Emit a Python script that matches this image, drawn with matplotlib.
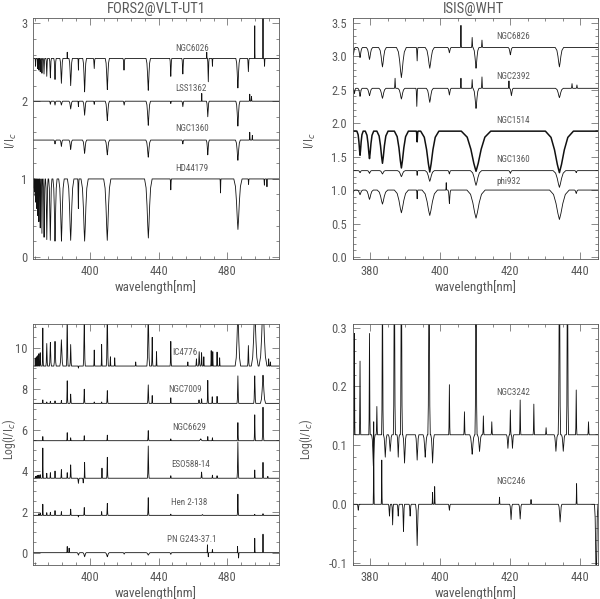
import numpy as np
import matplotlib
matplotlib.use("Agg")
import matplotlib.pyplot as plt
from matplotlib.ticker import MultipleLocator, FormatStrFormatter
from matplotlib import font_manager

# narrow font if the system has one, otherwise DejaVu Sans
names = set(f.name for f in font_manager.fontManager.ttflist)
narrow = [n for n in ['DejaVu Sans Condensed', 'Liberation Sans Narrow', 'Roboto Condensed'] if n in names]
plt.rcParams['font.family'] = narrow[:1] + ['DejaVu Sans']
plt.rcParams['axes.unicode_minus'] = False
SMALL = 1.0 if narrow else 0.88

# ---- line lists: centre [nm], tip level, half width [nm]
# FORS2 panel (I/Ic, shifted)
ngc6026_cont = 2.55
ngc6026_lam = [368.5, 369.7, 370.4, 371.2, 372.2, 373.4, 375.0, 377.1, 379.8, 383.5, 386.9, 388.9,
               393.4, 397.0, 402.6, 410.2, 419.9, 434.0, 447.1, 454.1, 468.0, 468.9, 471.3, 486.1,
               492.2, 495.9, 500.7, 501.6]
ngc6026_tip = [2.45, 2.42, 2.40, 2.38, 2.36, 2.35, 2.32, 2.30, 2.28, 2.23, 2.63, 2.20,
               2.40, 2.12, 2.42, 2.15, 2.40, 2.14, 2.32, 2.35, 2.63, 2.25, 2.45, 2.17,
               2.38, 2.97, 3.30, 2.45]
ngc6026_hw = [0.3, 0.3, 0.3, 0.35, 0.4, 0.45, 0.5, 0.6, 0.7, 0.9, 0.15, 1.0,
              0.3, 1.1, 0.5, 1.2, 0.6, 1.3, 0.6, 0.6, 0.25, 0.5, 0.3, 1.2,
              0.5, 0.2, 0.2, 0.3]

lss1362_cont = 2.0
lss1362_lam = [377.1, 379.8, 383.5, 388.9, 393.4, 397.0, 402.6, 410.2, 420.0, 434.0, 447.1, 454.1,
               465.1, 468.6, 486.1, 493.0, 494.0]
lss1362_tip = [1.96, 1.95, 1.95, 1.90, 1.93, 1.82, 1.96, 1.75, 1.95, 1.69, 1.97, 1.93,
               2.10, 1.80, 1.68, 2.09, 2.06]
lss1362_hw = [0.5, 0.6, 0.8, 1.0, 0.3, 1.0, 0.4, 1.2, 0.6, 1.3, 0.4, 0.6,
              0.2, 0.8, 1.2, 0.3, 0.3]

ngc1360f_cont = 1.5
ngc1360f_lam = [379.8, 383.5, 388.9, 397.0, 410.2, 434.0, 454.1, 468.6, 486.1, 493.0, 494.5]
ngc1360f_tip = [1.45, 1.42, 1.38, 1.33, 1.31, 1.28, 1.45, 1.31, 1.24, 1.60, 1.56]
ngc1360f_hw = [0.7, 0.8, 1.0, 1.2, 1.3, 1.4, 0.6, 0.9, 1.4, 0.3, 0.3]

hd44179_cont = 1.0
hd44179_lam = [367.65, 367.94, 368.28, 368.68, 369.15, 369.72, 370.39, 371.20, 372.19, 373.44,
               375.02, 377.06, 379.79, 383.54, 388.90, 393.37, 397.01, 410.17, 434.05, 447.1,
               476.0, 486.13, 492.3, 501.5, 503.0]
hd44179_tip = [0.88, 0.84, 0.78, 0.70, 0.62, 0.53, 0.45, 0.37, 0.30, 0.25,
               0.22, 0.21, 0.20, 0.20, 0.21, 0.62, 0.20, 0.21, 0.24, 0.86,
               0.82, 0.35, 0.93, 0.92, 0.90]
hd44179_hw = [0.13, 0.15, 0.17, 0.19, 0.22, 0.26, 0.30, 0.38, 0.45, 0.60,
              0.75, 0.95, 1.2, 1.6, 1.9, 0.4, 2.1, 2.1, 2.2, 0.4,
              0.3, 2.4, 0.3, 0.3, 0.3]

# ISIS panel (I/Ic, shifted)
ngc6826_cont = 3.13
ngc6826_lam = [375.2, 377.1, 379.8, 383.5, 388.9, 393.4, 397.0, 402.6, 405.9, 409.1, 410.2, 411.9,
               420.0, 434.0]
ngc6826_tip = [3.02, 2.98, 2.95, 2.84, 2.68, 2.93, 2.82, 3.05, 3.46, 3.28, 2.82, 3.24,
               3.02, 2.84]
ngc6826_hw = [0.5, 0.7, 0.9, 1.1, 1.4, 0.25, 1.3, 0.5, 0.15, 0.2, 0.85, 0.2,
              0.6, 1.2]

ngc2392_cont = 2.52
ngc2392_lam = [375.5, 377.1, 379.8, 383.5, 387.1, 388.9, 393.3, 397.0, 402.6, 405.9, 409.1, 410.2,
               411.9, 419.6, 420.3, 434.0, 437.6, 439.0]
ngc2392_tip = [2.44, 2.40, 2.41, 2.37, 2.67, 2.36, 2.25, 2.31, 2.42, 2.67, 2.65, 2.22,
               2.69, 2.63, 2.41, 2.38, 2.59, 2.57]
ngc2392_hw = [0.4, 0.6, 0.8, 1.0, 0.2, 1.0, 0.25, 1.0, 0.5, 0.15, 0.2, 0.85,
              0.2, 0.15, 0.5, 1.1, 0.2, 0.2]

ngc1514_cont = 1.88
ngc1514_lam = [377.1, 379.8, 383.5, 388.9, 393.4, 397.0, 410.2, 434.0]
ngc1514_tip = [1.52, 1.47, 1.40, 1.33, 1.72, 1.27, 1.28, 1.26]
ngc1514_hw = [0.9, 1.2, 1.6, 2.0, 0.25, 2.6, 4.2, 4.0]

ngc1360i_cont = 1.29
ngc1360i_lam = [377.1, 379.8, 383.5, 388.9, 393.4, 397.0, 402.6, 410.2, 420.0, 434.0, 438.8]
ngc1360i_tip = [1.26, 1.25, 1.24, 1.20, 1.22, 1.13, 1.24, 1.07, 1.25, 1.04, 1.26]
ngc1360i_hw = [0.5, 0.6, 0.8, 1.1, 0.2, 1.3, 0.4, 1.6, 0.5, 1.8, 0.4]

phi932_cont = 1.0
phi932_lam = [375.0, 377.1, 379.8, 383.5, 388.9, 393.4, 397.0, 401.7, 402.6, 410.2, 434.0, 438.8]
phi932_tip = [0.94, 0.93, 0.86, 0.79, 0.66, 0.87, 0.62, 1.11, 0.80, 0.58, 0.56, 0.95]
phi932_hw = [0.6, 0.8, 1.1, 1.5, 2.0, 0.2, 2.2, 0.15, 0.4, 2.6, 2.8, 0.5]

# FORS2 emission-line objects (Log(I/Ic), shifted)
ic4776_cont = 9.1
ic4776_lam = [368.3, 368.7, 369.15, 369.7, 370.4, 371.2, 372.7, 375.0, 377.1, 379.8, 383.5, 386.9,
              388.9, 393.4, 396.8, 402.6, 406.9, 410.2, 412.0, 414.5, 426.7, 434.0, 436.3, 438.8,
              447.1, 457.0, 462.0, 463.6, 465.0, 466.3, 470.6, 471.5, 474.0, 475.5, 486.1, 492.2,
              495.9, 500.7, 504.0, 505.0]
ic4776_tip = [9.45, 9.50, 9.55, 9.60, 9.70, 9.75, 10.95, 10.20, 10.25, 10.30, 10.38, 11.8,
              10.15, 9.0, 11.3, 9.88, 10.15, 11.8, 9.55, 9.50, 9.30, 11.8, 10.5, 9.80,
              10.3, 9.30, 9.45, 9.80, 9.75, 9.55, 9.85, 9.80, 9.78, 9.50, 11.8, 10.1,
              11.9, 12.2, 9.45, 9.30]
ic4776_hw = [0.15, 0.17, 0.2, 0.22, 0.28, 0.35, 0.35, 0.5, 0.6, 0.7, 0.9, 0.5,
             0.5, 0.3, 0.6, 0.3, 0.3, 0.6, 0.3, 0.3, 0.3, 0.8, 0.4, 0.3,
             0.4, 0.3, 0.4, 0.5, 0.4, 0.3, 0.3, 0.3, 0.3, 0.3, 1.6, 0.5,
             2.0, 2.3, 0.3, 0.3]

ngc7009_cont = 7.28
ngc7009_lam = [372.7, 375.0, 377.1, 379.8, 383.5, 386.9, 388.9, 396.8, 402.6, 406.9, 410.2, 434.0,
               436.3, 447.1, 463.5, 465.0, 468.6, 471.2, 474.0, 486.1, 495.9, 500.7]
ngc7009_tip = [7.45, 7.35, 7.38, 7.40, 7.42, 8.38, 7.73, 7.97, 7.35, 7.35, 7.90, 8.18,
               7.66, 7.55, 7.45, 7.50, 8.40, 7.60, 7.62, 8.62, 8.62, 8.65]
ngc7009_hw = [0.3, 0.3, 0.3, 0.3, 0.3, 0.4, 0.4, 0.4, 0.3, 0.3, 0.4, 0.5,
              0.3, 0.3, 0.4, 0.3, 0.4, 0.3, 0.3, 0.5, 0.6, 1.5]

ngc6629_cont = 5.46
ngc6629_lam = [372.7, 386.9, 388.9, 396.8, 410.2, 434.0, 447.1, 464.5, 468.6, 471.3, 486.1, 495.9, 500.7]
ngc6629_tip = [5.66, 5.85, 5.60, 5.70, 5.73, 5.95, 5.55, 5.55, 5.66, 5.60, 6.34, 6.72, 7.09]
ngc6629_hw = [0.3, 0.3, 0.3, 0.3, 0.3, 0.4, 0.3, 1.0, 0.3, 0.3, 0.4, 0.4, 0.5]

eso588_cont = 3.63
eso588_lam = [368.5, 369.2, 369.7, 370.4, 371.2, 372.7, 375.0, 377.1, 379.8, 383.5, 386.9, 388.9,
              393.4, 396.2, 397.0, 407.1, 410.2, 434.0, 447.1, 465.0, 471.3, 474.0, 486.1, 495.9,
              500.7, 503.5]
eso588_tip = [3.72, 3.74, 3.76, 3.78, 3.80, 5.10, 3.87, 3.90, 3.98, 4.05, 3.90, 4.28,
              3.38, 3.40, 4.40, 4.12, 4.65, 5.20, 3.75, 3.93, 3.78, 3.75, 5.40, 4.03,
              4.40, 3.72]
eso588_hw = [0.2, 0.2, 0.2, 0.25, 0.3, 0.3, 0.3, 0.3, 0.3, 0.35, 0.3, 0.4,
             0.5, 0.4, 0.3, 0.3, 0.4, 0.5, 0.3, 0.4, 0.3, 0.3, 0.5, 0.3,
             0.35, 0.3]

hen2138_cont = 1.82
hen2138_lam = [370.4, 371.2, 372.7, 375.0, 377.1, 379.8, 383.5, 388.9, 393.4, 396.8, 406.9, 410.2,
               434.0, 447.1, 465.5, 486.1, 495.9, 500.7]
hen2138_tip = [1.90, 1.92, 2.36, 1.95, 1.97, 2.05, 2.00, 2.12, 1.74, 2.20, 2.00, 2.40,
               2.68, 1.88, 1.86, 2.85, 1.87, 1.90]
hen2138_hw = [0.25, 0.3, 0.3, 0.3, 0.3, 0.3, 0.3, 0.35, 0.3, 0.35, 0.3, 0.4,
              0.4, 0.3, 0.5, 0.4, 0.3, 0.3]

png243_cont = 0.0
png243_lam = [386.9, 388.0, 393.4, 397.0, 410.2, 420.0, 434.0, 447.1, 468.4, 468.9, 471.3, 485.9,
              486.5, 495.9, 500.7]
png243_tip = [0.30, 0.22, -0.12, -0.20, -0.20, -0.07, -0.12, -0.08, 0.38, -0.20, 0.15, 0.30,
              -0.26, 0.70, 0.90]
png243_hw = [0.3, 0.3, 0.8, 1.0, 1.2, 0.6, 1.2, 0.6, 0.2, 0.25, 0.3, 0.2,
             0.3, 0.25, 0.3]

# ISIS emission-line objects (Log(I/Ic))
ngc3242_cont = 0.118
ngc3242_lam = [375.5, 377.1, 379.8, 380.9, 381.9, 383.5, 384.3, 385.7, 386.9, 388.0, 388.9, 389.8,
               393.4, 395.7, 396.8, 397.8, 402.6, 406.9, 409.1, 410.2, 411.2, 412.3, 414.7, 419.3,
               420.0, 420.6, 422.8, 426.7, 430.2, 433.0, 434.0, 435.1, 436.3, 438.8, 442.3]
ngc3242_tip = [0.29, 0.243, 0.29, 0.065, 0.166, 0.40, 0.08, 0.09, 0.45, 0.08, 0.45, 0.07,
               0.075, 0.08, 0.45, 0.07, 0.203, 0.157, 0.085, 0.45, 0.09, 0.15, 0.14, 0.095,
               0.16, 0.095, 0.177, 0.17, 0.13, 0.09, 0.45, 0.09, 0.45, 0.194, 0.14]
ngc3242_hw = [0.15, 0.2, 0.2, 0.5, 0.2, 0.25, 0.5, 0.5, 0.3, 0.35, 0.3, 0.5,
              0.5, 0.6, 0.35, 0.5, 0.2, 0.2, 0.7, 0.3, 0.6, 0.2, 0.2, 0.4,
              0.2, 0.35, 0.2, 0.2, 0.2, 0.5, 0.35, 0.5, 0.3, 0.2, 0.2]

ngc246_cont = 0.0
ngc246_lam = [376.6, 381.0, 383.3, 385.5, 386.4, 388.0, 389.5, 391.4, 393.4, 397.8, 398.4, 402.6,
              416.9, 420.2, 422.8, 425.9, 434.2, 438.9, 444.5]
ngc246_tip = [-0.01, 0.14, 0.075, -0.02, -0.035, -0.02, -0.046, -0.02, -0.07, 0.02, 0.03, -0.01,
              0.012, -0.026, -0.025, 0.008, -0.03, 0.035, -0.15]
ngc246_hw = [0.3, 0.15, 0.15, 0.3, 0.25, 0.3, 0.3, 0.3, 0.45, 0.15, 0.15, 0.3,
             0.15, 0.4, 0.4, 0.15, 0.5, 0.15, 0.5]

# line profile drawn for every listed feature (shape only)
prof_u = [-1, -0.6, -0.35, -0.15, 0, 0.15, 0.35, 0.6, 1]
prof_f = [0, 0.15, 0.45, 0.8, 1, 0.8, 0.45, 0.15, 0]


def spectrum(xlim, cont, lam, tip, hw):
    xs = [xlim[0], xlim[1]]
    ys = [cont, cont]
    for l, t, w in zip(lam, tip, hw):
        for u, f in zip(prof_u, prof_f):
            xs.append(l + u * w)
            ys.append(cont + (t - cont) * f)
    xs = np.array(xs)
    ys = np.array(ys)
    order = np.argsort(xs, kind='stable')
    return xs[order], ys[order]


GREY = '#5a5a5a'


def style(ax, xlim, ylim, xmaj, xmin, ymaj, ymin, yfmt, ylab):
    ax.set_xlim(xlim)
    ax.set_ylim(ylim)
    ax.xaxis.set_major_locator(MultipleLocator(xmaj))
    ax.xaxis.set_minor_locator(MultipleLocator(xmin))
    ax.yaxis.set_major_locator(MultipleLocator(ymaj))
    ax.yaxis.set_minor_locator(MultipleLocator(ymin))
    ax.yaxis.set_major_formatter(FormatStrFormatter(yfmt))
    ax.tick_params(which='both', direction='in', top=True, right=True,
                   colors=GREY, labelcolor=GREY, labelsize=9 * SMALL, width=0.5)
    ax.tick_params(which='major', length=5, pad=4)
    ax.tick_params(which='minor', length=2.5)
    for s in ax.spines.values():
        s.set_color(GREY)
        s.set_linewidth(0.6)
    ax.set_xlabel('wavelength[nm]', fontsize=9.5 * SMALL, color=GREY, labelpad=2)
    ax.set_ylabel(ylab, fontsize=8.5 * SMALL, color=GREY)


fig = plt.figure(figsize=(6, 5.99), dpi=100)
ax_tl = fig.add_axes([0.055, 0.5676, 0.41, 0.4023])
ax_tr = fig.add_axes([0.5878, 0.5676, 0.4088, 0.4023])
ax_bl = fig.add_axes([0.055, 0.0568, 0.41, 0.4023])
ax_br = fig.add_axes([0.5878, 0.0568, 0.4088, 0.4023])

fors_x = (367.0, 510.0)
isis_x = (375.0, 445.0)

panels = [
    (ax_tl, fors_x, [
        ('NGC6026', ngc6026_cont, ngc6026_lam, ngc6026_tip, ngc6026_hw, 449.7, 2.68),
        ('LSS1362', lss1362_cont, lss1362_lam, lss1362_tip, lss1362_hw, 449.7, 2.16),
        ('NGC1360', ngc1360f_cont, ngc1360f_lam, ngc1360f_tip, ngc1360f_hw, 449.7, 1.65),
        ('HD44179', hd44179_cont, hd44179_lam, hd44179_tip, hd44179_hw, 449.7, 1.14)]),
    (ax_tr, isis_x, [
        ('NGC6826', ngc6826_cont, ngc6826_lam, ngc6826_tip, ngc6826_hw, 416.1, 3.29),
        ('NGC2392', ngc2392_cont, ngc2392_lam, ngc2392_tip, ngc2392_hw, 416.1, 2.69),
        ('NGC1514', ngc1514_cont, ngc1514_lam, ngc1514_tip, ngc1514_hw, 416.1, 2.04),
        ('NGC1360', ngc1360i_cont, ngc1360i_lam, ngc1360i_tip, ngc1360i_hw, 416.1, 1.45),
        ('phi932', phi932_cont, phi932_lam, phi932_tip, phi932_hw, 416.1, 1.13)]),
    (ax_bl, fors_x, [
        ('IC4776', ic4776_cont, ic4776_lam, ic4776_tip, ic4776_hw, 447.7, 9.78),
        ('NGC7009', ngc7009_cont, ngc7009_lam, ngc7009_tip, ngc7009_hw, 445.8, 7.94),
        ('NGC6629', ngc6629_cont, ngc6629_lam, ngc6629_tip, ngc6629_hw, 447.7, 6.10),
        ('ESO588-14', eso588_cont, eso588_lam, eso588_tip, eso588_hw, 447.1, 4.30),
        ('Hen 2-138', hen2138_cont, hen2138_lam, hen2138_tip, hen2138_hw, 447.1, 2.46),
        ('PN G243-37.1', png243_cont, png243_lam, png243_tip, png243_hw, 444.8, 0.62)]),
    (ax_br, isis_x, [
        ('NGC3242', ngc3242_cont, ngc3242_lam, ngc3242_tip, ngc3242_hw, 416.1, 0.19),
        ('NGC246', ngc246_cont, ngc246_lam, ngc246_tip, ngc246_hw, 416.1, 0.039)]),
]

for ax, xl, stars in panels:
    for name, cont, lam, tip, hw, tx, ty in stars:
        x, y = spectrum(xl, cont, lam, tip, hw)
        lw = 1.1 if name == 'NGC1514' else 0.6
        ax.plot(x, y, color='#111111', lw=lw)
        ax.text(tx, ty, name, fontsize=6.5 * SMALL, color=GREY, va='center', ha='left')

style(ax_tl, fors_x, (-0.03, 3.07), 40, 8, 1, 0.2, '%d', 'I/I$_c$')
style(ax_tr, isis_x, (-0.03, 3.57), 20, 5, 0.5, 0.1, '%.1f', 'I/I$_c$')
style(ax_bl, fors_x, (-0.6, 11.15), 40, 8, 2, 0.5, '%d', 'Log(I/I$_c$)')
style(ax_br, isis_x, (-0.103, 0.306), 20, 5, 0.1, 0.02, '%.1f', 'Log(I/I$_c$)')

ax_tl.yaxis.set_label_coords(-0.055, 0.49)
ax_tr.yaxis.set_label_coords(-0.14, 0.49)
ax_bl.yaxis.set_label_coords(-0.06, 0.52)
ax_br.yaxis.set_label_coords(-0.155, 0.52)

fig.text(0.26, 0.985, 'FORS2@VLT-UT1', fontsize=10.5 * SMALL, color=GREY, ha='center', va='center')
fig.text(0.79, 0.985, 'ISIS@WHT', fontsize=10.5 * SMALL, color=GREY, ha='center', va='center')

fig.savefig('out.png', dpi=100)
